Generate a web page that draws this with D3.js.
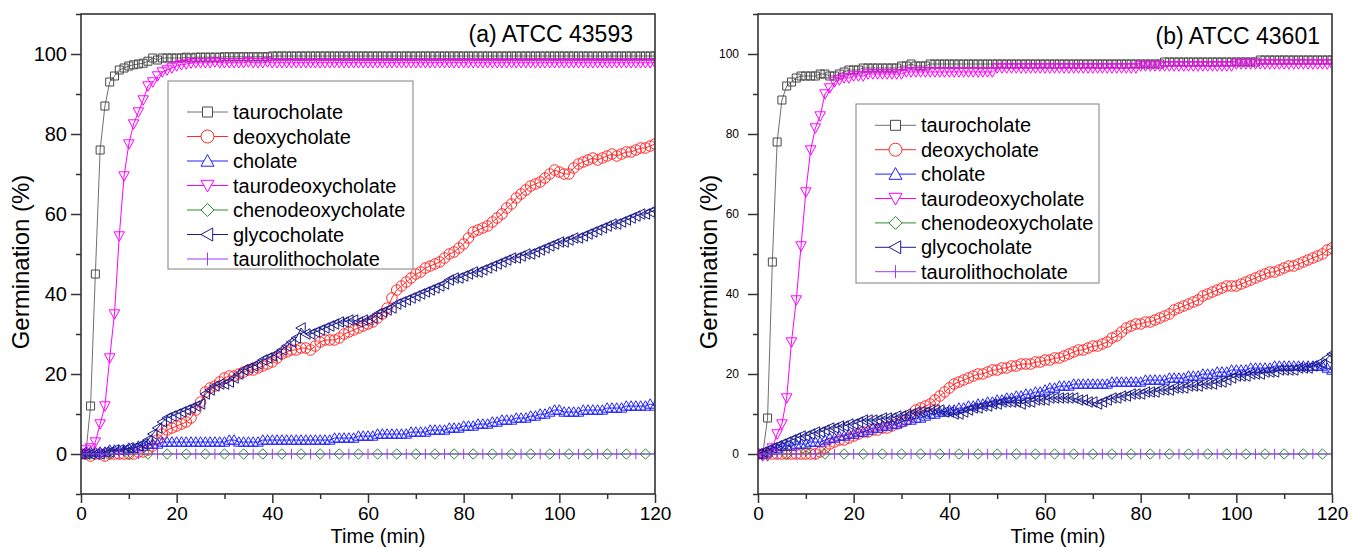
<!DOCTYPE html>
<html><head><meta charset="utf-8">
<script src="https://cdn.jsdelivr.net/npm/d3@7"></script>
<style>body{margin:0;background:#fff;} svg{display:block;font-family:"Liberation Sans",Arial,sans-serif;}</style>
</head><body><svg id="chart" width="1363" height="548"></svg>
<script>
// ---------- DATA ----------
const time = d3.range(0, 121); // minutes, 1-min sampling
const seriesNames = ["taurocholate","deoxycholate","cholate","taurodeoxycholate","chenodeoxycholate","glycocholate","taurolithocholate"];
const xTicks = [0,20,40,60,80,100,120];
const xMinor = [10,30,50,70,90,110];
const yTicks = [0,20,40,60,80,100];
const yMinor = [-10,10,30,50,70,90,110];
const panelTitles = ["(a) ATCC 43593","(b) ATCC 43601"];

// Panel (a) ATCC 43593
const tauroA = [0,0,12,45,76,87,93,94.5,96,96.5,
97,97.3,97.5,97.7,98.2,99,98.5,99,99,99,
99,99,99.2,99,99.2,99.2,99.2,99.2,99.2,99.2,
99.3,99.3,99.3,99.3,99.3,99.3,99.3,99.3,99.3,99.3,
99.5,99.5,99.5,99.5,99.5,99.5,99.5,99.5,99.5,99.5,
99.5,99.5,99.5,99.5,99.5,99.5,99.5,99.5,99.5,99.5,
99.5,99.5,99.5,99.5,99.5,99.5,99.5,99.5,99.5,99.5,
99.5,99.5,99.5,99.5,99.5,99.5,99.5,99.5,99.5,99.5,
99.5,99.5,99.5,99.5,99.5,99.5,99.5,99.5,99.5,99.5,
99.5,99.5,99.5,99.5,99.5,99.5,99.5,99.5,99.5,99.5,
99.5,99.5,99.5,99.5,99.5,99.5,99.5,99.5,99.5,99.5,
99.5,99.5,99.5,99.5,99.5,99.5,99.5,99.5,99.5,99.5,
99.5];
const deoxyA = [0,0,-0.5,0,0,-0.5,0,0,0,0,
0,0,0.5,0.5,1,2,3.5,5,6,6.5,
7,7.5,8,9,11,13,15.5,16.5,17,18,
19,19.5,19.5,20,20.5,21,21,21.5,22,22.5,
23,24,25,25.5,26,26,26.5,26.5,26,27,
28,28.5,28.5,28.5,29,30,30.5,31,31.5,32,
32.5,33,34,35,36.5,39,41,42,43,44,
45,45.5,46.5,47,47.5,48,49,50,50.5,51.5,
52.5,54,55.5,56,56.5,57,58,59,60,61.5,
62.5,64,65,66,67,67.5,68,69,70,71,
70.5,70,70,71.5,72.5,73,73.5,74,73.5,74,
74.5,75,74.5,75,75.5,75.5,76,76.5,76.5,77,
77.5];
const cholateA = [0,0.5,0.5,0.5,0.5,0.5,1,1,1,1,
1.5,1.5,2,2,2.5,2.5,2.5,3,3,3,
3,3,3,3,3,3,3,3,3,3,
3,3.5,3.5,3,3,3,3,3,3.5,3.5,
3.5,3.5,3.5,3.5,3.5,3.5,3.5,3.5,3.5,3.5,
3.5,3.5,3.5,4,4,4,4,4,4.5,4.5,
4.5,4.5,5,5,5,5,5,5,5,5.5,
5.5,5.5,5.5,6,6,6,6,6.5,6.5,6.5,
7,7,7,7.5,7.5,7.5,8,8,8.5,8.5,
8.5,9,9,9,9.5,9.5,10,10,10.5,11,
11,10.5,10.5,10.5,10.5,11,11,11,11,11,
11.5,11.5,11.5,11.5,12,12,12,12,12,12.5,
12];
const tauroDeoxyA = [0,1,1.5,3,7.5,12,24,35,54.5,69.5,
77.5,82.5,85.5,88.5,92,93,94.5,95.5,96,96.5,
97,97.3,97.5,97.7,97.8,97.8,97.8,97.8,98,97.8,
97.8,97.8,97.8,97.8,97.8,98,97.8,97.8,97.8,98,
97.8,97.8,97.8,97.8,97.8,97.8,97.8,97.8,97.8,97.8,
97.8,97.8,97.8,97.8,97.8,97.8,97.8,97.8,97.8,97.8,
97.8,97.8,97.8,97.8,97.8,97.8,97.8,97.8,97.8,97.8,
97.8,97.8,97.8,97.8,97.8,97.8,97.8,97.8,97.8,97.8,
97.8,97.8,97.8,97.8,97.8,97.8,97.8,97.8,97.8,97.8,
97.8,97.8,97.8,97.8,97.8,97.8,97.8,97.8,97.8,97.8,
97.8,97.8,97.8,97.8,97.8,97.8,97.8,97.8,97.8,97.8,
97.8,97.8,97.8,97.8,97.8,97.8,97.8,97.8,97.8,97.8,
97.8];
const chenoA = [0,0,0,0,0,0,0,0,0,0, 0,0,0,0,0,0,0,0,0,0, 0,0,0,0,0,0,0,0,0,0,
0,0,0,0,0,0,0,0,0,0, 0,0,0,0,0,0,0,0,0,0, 0,0,0,0,0,0,0,0,0,0,
0,0,0,0,0,0,0,0,0,0, 0,0,0,0,0,0,0,0,0,0, 0,0,0,0,0,0,0,0,0,0,
0,0,0,0,0,0,0,0,0,0, 0,0,0,0,0,0,0,0,0,0, 0,0,0,0,0,0,0,0,0,0, 0];
const glycoA = [0,0,0,0,0,0.5,0.5,1,1,1,
1.5,1.5,2,2.5,3.5,5,6.5,8,9,9.5,
10,10.5,11,11.5,12,12.5,15,16,17,17.5,
17.5,18,19,20,21,21.5,22,22.5,23.5,24,
24.5,25,26,27,28,29,31.5,30,30,30.5,
31,31.5,32,32.5,33,33,33.5,33.5,33,33.5,
33.5,34,35,35.5,36,36.5,37.5,38,38.5,39,
39.5,40,40.5,41,41.5,42,42.5,43.5,44,44,
44.5,45,45.5,45.5,46,46.5,47,47.5,48,48.5,
49,49,49.5,50,50,50.5,51,51.5,52,52.5,
53,53,53.5,54,54,54.5,55,55.5,56,56.5,
57,57.5,57.5,58,58.5,59,59.5,60,60,60.5,
61];
const lithoA = [0,0,0,0,0,0,0,0,0,0, 0,0,0,0,0,0,0,0,0,0, 0,0,0,0,0,0,0,0,0,0,
0,0,0,0,0,0,0,0,0,0, 0,0,0,0,0,0,0,0,0,0, 0,0,0,0,0,0,0,0,0,0,
0,0,0,0,0,0,0,0,0,0, 0,0,0,0,0,0,0,0,0,0, 0,0,0,0,0,0,0,0,0,0,
0,0,0,0,0,0,0,0,0,0, 0,0,0,0,0,0,0,0,0,0, 0,0,0,0,0,0,0,0,0,0, 0];

// Panel (b) ATCC 43601
const tauroB = [0,0,9,48,78,88.5,92,93,94,94.5,
94.5,94.5,94.5,95,95,94.5,94.5,95,95.5,96,
96,96,96.5,96.5,96.5,96.5,96.5,96.5,96.5,96.5,
97,97,97.5,97,97,97,97.5,97.5,97.5,97.5,
97.5,97.5,97.5,97.5,97.5,97.5,97.5,97.5,97.5,97.5,
97.5,97.5,97.5,97.5,97.5,97.5,97.5,97.5,97.5,97.5,
97.5,97.5,97.5,97.5,97.5,97.5,97.5,97.5,97.5,97.5,
97.5,97.5,97.5,97.5,97.5,97.5,97.5,97.5,97.5,97.5,
97.5,97.5,97.5,97.5,97.5,98,98,98,98,98,
98,98,98,98,98,98,98,98,98,98,
98,98,98,98,98,98.5,98.5,98.5,98.5,98.5,
98.5,98.5,98.5,98.5,98.5,98.5,98.5,98.5,98.5,98.5,
98.5];
const deoxyB = [0,0,0,0,0,0,0,0,0,0,
0,0,0,0.5,1.5,2.5,3,3.5,3.5,4,
4.5,5,5.5,5.5,6,6,6.5,6.5,7,7.5,
8,8.5,9.5,11,11.5,12,12.5,13.5,14.5,15.5,
16.5,17.5,18,18.5,19,19.5,20,20,20.5,21,
21,21.5,21.5,22,22,22.5,22.5,22.5,23,23,
23.5,23.5,24,24,24.5,25,25.5,26,26,26.5,
27,27,27.5,28,29,29.5,30.5,31.5,32,32.5,
32.5,33,33,33.5,34,34.5,35,36,36.5,37,
37.5,38,38.5,39.5,40,40.5,41,41.5,42,42,
42,42.5,43,43.5,44,44.5,45,45.5,45.5,46,
46.5,47,47,47.5,48,48.5,49,49.5,50,51,
51.5];
const cholateB = [0,0,0.5,1,1.5,2,2,2,2.5,2.5,
2.5,3,3,3,3.5,4,4,4.5,4.5,5,
5,5.5,5.5,6,6.5,6.5,7,7,7.5,7.5,
8,8.5,8.5,9,9,9.5,10,10,10.5,10.5,
11,11,11.5,11.5,12,12,12.5,12.5,13,13,
13.5,13.5,14,14,14.5,14.5,15,15,15.5,15.5,
16,16.5,16.5,17,17,17,17.5,17.5,17.5,17.5,
17.5,17.5,17.5,17.5,18,18,18,18,18,18,
18,18.5,18.5,18.5,18.5,18.5,19,19,19,19,
19.5,19.5,19.5,20,20,20,20.5,20.5,20.5,21,
21,21,21,21.5,21.5,21.5,21.5,21.5,22,22,
22,22,22,22,22,22,22,22,22,21.5,
21];
const tauroDeoxyB = [0,-0.5,-0.5,1.5,5,7.5,14,28,38.5,52,
65.5,76,81.5,84.5,90,91.5,93,93.5,94,94,
94.5,94.5,94.5,95,95,95,95,95,95,95,
95,95.5,95.5,95.5,95.5,95.5,95.5,95.5,95.5,95.5,
95.5,95.5,95.5,95.5,95.5,95.5,95.5,95.5,95.5,95.5,
96.5,96.5,96.5,96.5,96.5,96.5,96.5,96.5,96.5,96.5,
96.5,96.5,96.5,96.5,96.5,96.5,96.5,96.5,96.5,96.5,
96.5,96.5,96.5,96.5,96.5,96.5,96.5,96.5,96.5,96.5,
97,97,97,97,97,97,97,97,97,97,
97,97,97,97,97,97,97,97,97,97,
97.5,97.5,97.5,97.5,97.5,97.5,97.5,97.5,97.5,97.5,
97.5,97.5,97.5,97.5,97.5,97.5,97.5,97.5,97.5,97.5,
97.5];
const chenoB = [0,0,-0.3,0,0,0,0,0,0,0, 0.8,0,0,0,0,0,0,0,0,0, 0,0,0,0,0,0,0,0,0,0,
0,0,0,0,0,0,0,0,0,0, 0,0,0,0,0,0,0,0,0,0, 0,0,0,0,0,0,0,0,0,0,
0,0,0,0,0,0,0,0,0,0, 0,0,0,0,0,0,0,0,0,0, 0,0,0,0,0,0,0,0,0,0,
0,0,0,0,0,0,0,0,0,0, 0,0,0,0,0,0,0,0,0,0, 0,0,0,0,0,0,0,0,0,0, 0];
const glycoB = [0,0.5,1,1.5,2,2.5,3,3.5,4,4.5,
4.5,5,5.5,5.5,6,6.5,6.5,7,7,7.5,
7.5,8,8.5,8.5,8.5,8.5,9,9,9,9.5,
9.5,10,10,10.5,10.5,10.5,11,11,11,10.5,
10.5,10,10,10.5,11,11.5,11.5,12,12,12.5,
12.5,13,13,13,13,12.5,13,13,13.5,13.5,
13.5,14,14,14,14,14,14,13.5,13.5,13,
13,12.5,13,13.5,14,14,14.5,14.5,15,15,
15,15.5,15.5,15.5,16,16,16,16.5,16.5,16.5,
17,17,17,17.5,17.5,17.5,18,18,18.5,19,
19.5,19.5,19.5,20,20,20,20.5,20.5,20.5,21,
21,21,21,21.5,21.5,21.5,22,22.5,22.5,24,
25];
const lithoB = [0,0,0,0,0,0,0,0,0,0, 0,0,0,0,0,0,0,0,0,0, 0,0,0,0,0,0,0,0,0,0,
0,0,0,0,0,0,0,0,0,0, 0,0,0,0,0,0,0,0,0,0, 0,0,0,0,0,0,0,0,0,0,
0,0,0,0,0,0,0,0,0,0, 0,0,0,0,0,0,0,0,0,0, 0,0,0,0,0,0,0,0,0,0,
0,0,0,0,0,0,0,0,0,0, 0,0,0,0,0,0,0,0,0,0, 0,0,0,0,0,0,0,0,0,0, 0];

const valuesA = [tauroA, deoxyA, cholateA, tauroDeoxyA, chenoA, glycoA, lithoA];
const valuesB = [tauroB, deoxyB, cholateB, tauroDeoxyB, chenoB, glycoB, lithoB];

// ---------- STYLE ----------
const styles = [
  {shape:"square",   line:"#707070", mark:"#484848", every:1, offset:0},
  {shape:"circle",   line:"#ff2a2a", mark:"#ff2a2a", every:1, offset:0},
  {shape:"triUp",    line:"#2020ff", mark:"#2020ff", every:1, offset:0},
  {shape:"triDown",  line:"#ff00ff", mark:"#ff00ff", every:1, offset:0},
  {shape:"diamond",  line:"#2e8b2e", mark:"#2e8b2e", every:4, offset:2},
  {shape:"triLeft",  line:"#1c1c8c", mark:"#1c1c8c", every:1, offset:0},
  {shape:"bar",      line:"#9a3cff", mark:"#9a3cff", every:4, offset:0}
];
function shapePath(shape, s) {
  const h = s/2;
  switch (shape) {
    case "square":  return `M${-h+0.5},${-h+0.5}H${h-0.5}V${h-0.5}H${-h+0.5}Z`;
    case "circle":  return `M${h},0A${h},${h} 0 1,1 ${-h},0A${h},${h} 0 1,1 ${h},0Z`;
    case "triUp":   return `M0,${-h}L${h},${h*0.8}L${-h},${h*0.8}Z`;
    case "triDown": return `M0,${h}L${h},${-h*0.8}L${-h},${-h*0.8}Z`;
    case "diamond": return `M0,${-h}L${h},0L0,${h}L${-h},0Z`;
    case "triLeft": return `M${-h},0L${h*0.8},${-h}L${h*0.8},${h}Z`;
    case "bar":     return `M0,${-h}V${h}`;
  }
}

const panels = [
  {x0:81, x1:655, y0:14, y1:494, values:valuesA, title:panelTitles[0], titleX:633, titleY:42,
   yFont:20, yPad:4, yTitleX:29, xTitleX:378,
   legend:{x:168, y:81, w:245, h:188, row0:112, dy:24.5}},
  {x0:758, x1:1332, y0:14, y1:494, values:valuesB, title:panelTitles[1], titleX:1320, titleY:44,
   yFont:12, yPad:9, yTitleX:717, xTitleX:1058,
   legend:{x:856, y:104, w:243, h:179, row0:125.3, dy:24.4}}
];

const svg = d3.select("#chart");
const axisColor = "#333";

panels.forEach((p, pi) => {
  const x = d3.scaleLinear().domain([0,120]).range([p.x0, p.x1]);
  const y = d3.scaleLinear().domain([-10,110]).range([p.y1, p.y0]);
  const g = svg.append("g");
  const clipId = "clip" + pi;
  svg.append("clipPath").attr("id", clipId).append("rect")
    .attr("x", p.x0).attr("y", p.y0).attr("width", p.x1 - p.x0).attr("height", p.y1 - p.y0);

  const plot = g.append("g").attr("clip-path", `url(#${clipId})`);
  const line = d3.line().x(d => x(d.t)).y(d => y(d.v));

  p.values.forEach((vals, si) => {
    const st = styles[si];
    const pts = time.map((t, i) => ({t, v: vals[i]}));
    plot.append("path").datum(pts).attr("d", line)
      .attr("fill", "none").attr("stroke", st.line).attr("stroke-width", 1);
    const mk = pts.filter((d, i) => i >= st.offset && (i - st.offset) % st.every === 0);
    plot.selectAll(null).data(mk).enter().append("path")
      .attr("transform", d => `translate(${x(d.t)},${y(d.v)})`)
      .attr("d", shapePath(st.shape, st.shape === "square" ? 9 : 10.5))
      .attr("fill", "none").attr("stroke", st.mark).attr("stroke-width", 1);
  });

  // axes
  const xAx = g.append("g").attr("transform", `translate(0,${p.y1})`)
    .call(d3.axisBottom(x).tickValues(xTicks).tickSize(9).tickPadding(4).tickFormat(d3.format("d")));
  const xAxMin = g.append("g").attr("transform", `translate(0,${p.y1})`)
    .call(d3.axisBottom(x).tickValues(xMinor).tickSize(5).tickFormat(""));
  const yAx = g.append("g").attr("transform", `translate(${p.x0},0)`)
    .call(d3.axisLeft(y).tickValues(yTicks).tickSize(10).tickPadding(p.yPad).tickFormat(d3.format("d")));
  const yAxMin = g.append("g").attr("transform", `translate(${p.x0},0)`)
    .call(d3.axisLeft(y).tickValues(yMinor).tickSize(5).tickFormat(""));
  [xAx, xAxMin, yAx, yAxMin].forEach(a => {
    a.select(".domain").remove();
    a.selectAll("line").attr("stroke", axisColor).attr("stroke-width", 1.5);
    a.selectAll("text").attr("fill", "#000").style("font-family", '"Liberation Sans",Arial,sans-serif');
  });
  xAx.selectAll("text").style("font-size", "19px");
  yAx.selectAll("text").style("font-size", p.yFont + "px");

  // frame
  g.append("rect").attr("x", p.x0).attr("y", p.y0).attr("width", p.x1 - p.x0).attr("height", p.y1 - p.y0)
    .attr("fill", "none").attr("stroke", axisColor).attr("stroke-width", 1.6);

  // titles
  g.append("text").attr("x", p.titleX).attr("y", p.titleY).attr("text-anchor", "end")
    .style("font-size", "23px").attr("fill", "#000").text(p.title);
  g.append("text").attr("x", p.xTitleX).attr("y", 543).attr("text-anchor", "middle")
    .style("font-size", "20px").attr("fill", "#000").text("Time (min)");
  g.append("text").attr("transform", `translate(${p.yTitleX},262) rotate(-90)`).attr("text-anchor", "middle")
    .style("font-size", "24px").attr("fill", "#000").text("Germination (%)");

  // legend
  const L = p.legend;
  const lg = g.append("g");
  lg.append("rect").attr("x", L.x).attr("y", L.y).attr("width", L.w).attr("height", L.h)
    .attr("fill", "#fff").attr("stroke", "#808080").attr("stroke-width", 1);
  seriesNames.forEach((name, si) => {
    const st = styles[si];
    const cy = L.row0 + si * L.dy;
    lg.append("line").attr("x1", L.x + 19).attr("x2", L.x + 60).attr("y1", cy).attr("y2", cy)
      .attr("stroke", st.line).attr("stroke-width", 1);
    lg.append("path").attr("transform", `translate(${L.x + 39.5},${cy})`)
      .attr("d", shapePath(st.shape, st.shape === "square" ? 11 : 13))
      .attr("fill", st.shape === "bar" ? "none" : "#fff").attr("stroke", st.mark).attr("stroke-width", 1);
    lg.append("text").attr("x", L.x + 65).attr("y", cy + 7).style("font-size", "20px")
      .attr("fill", "#000").text(name);
  });
});
</script>
</body></html>
